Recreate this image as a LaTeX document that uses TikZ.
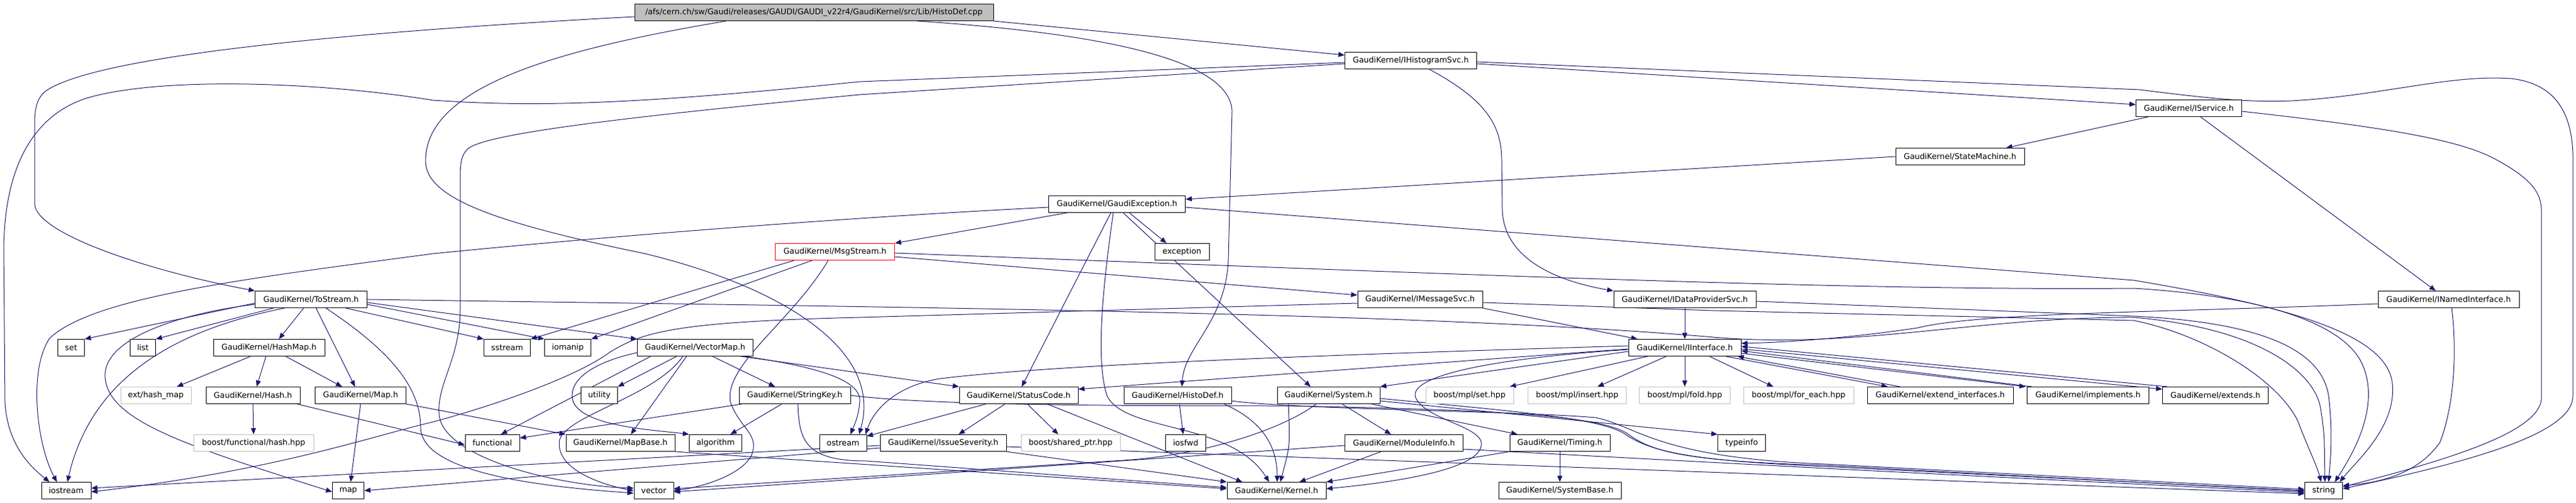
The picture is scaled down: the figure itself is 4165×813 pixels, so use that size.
\documentclass[tikz,border=0pt]{standalone}
\usepackage{fontspec}
\setmainfont{DejaVu Sans}
\usetikzlibrary{arrows.meta,backgrounds}
\definecolor{edgeblue}{RGB}{25,25,112}
\begin{document}
\begin{tikzpicture}[x=1pt,y=-1pt]
        \tikzstyle{file}=[rectangle,draw=black,fill=white,line width=1pt,minimum height=27pt,inner sep=1pt,font=\fontsize{12.8}{15}\selectfont]
        \tikzstyle{sysfile}=[file,draw=gray!50]
        \tikzstyle{mainfile}=[file,fill=gray!50]
        \tikzstyle{openfile}=[file,draw=red]
        \tikzstyle{incl}=[draw=edgeblue,line width=1pt,-{Triangle[length=10pt,width=8pt]}]
        \useasboundingbox (0,0) rectangle (4165,813);

        \node [mainfile,minimum width=580pt] (root) at (1316,20) {/afs/cern.ch/sw/Gaudi/releases/GAUDI/GAUDI\_v22r4/GaudiKernel/src/Lib/HistoDef.cpp};
        \node [file,minimum width=213pt] (histsvc) at (2281,98) {GaudiKernel/IHistogramSvc.h};
        \node [file,minimum width=171pt] (isvc) at (3539,175) {GaudiKernel/IService.h};
        \node [file,minimum width=208pt] (statem) at (3169,253) {GaudiKernel/StateMachine.h};
        \node [file,minimum width=221pt] (gexc) at (1806,330) {GaudiKernel/GaudiException.h};
        \node [openfile,minimum width=193pt] (msgs) at (1350,407) {GaudiKernel/MsgStream.h};
        \node [file,minimum width=88pt] (exc) at (1911,407) {exception};
        \node [file,minimum width=181pt] (tostr) at (503,484) {GaudiKernel/ToStream.h};
        \node [file,minimum width=202pt] (imsg) at (2296,484) {GaudiKernel/IMessageSvc.h};
        \node [file,minimum width=230pt] (idata) at (2724,484) {GaudiKernel/IDataProviderSvc.h};
        \node [file,minimum width=228pt] (inamed) at (3959,484) {GaudiKernel/INamedInterface.h};
        \node [file,minimum width=43pt] (set) at (115,562) {set};
        \node [file,minimum width=41pt] (list) at (231,562) {list};
        \node [file,minimum width=180pt] (hashmap) at (435,562) {GaudiKernel/HashMap.h};
        \node [file,minimum width=75pt] (sstr) at (820,562) {sstream};
        \node [file,minimum width=75pt] (ioman) at (918,562) {iomanip};
        \node [file,minimum width=187pt] (vmap) at (1124,562) {GaudiKernel/VectorMap.h};
        \node [file,minimum width=182pt] (iif) at (2724,562) {GaudiKernel/IInterface.h};
        \node [sysfile,minimum width=114pt] (exthm) at (252,639) {ext/hash\_map};
        \node [file,minimum width=152pt] (hash) at (409,639) {GaudiKernel/Hash.h};
        \node [file,minimum width=147pt] (maph) at (583,639) {GaudiKernel/Map.h};
        \node [file,minimum width=59pt] (util) at (969,639) {utility};
        \node [file,minimum width=180pt] (skey) at (1285,639) {GaudiKernel/StringKey.h};
        \node [file,minimum width=192pt] (scode) at (1647,639) {GaudiKernel/StatusCode.h};
        \node [file,minimum width=174pt] (hdef) at (1904,639) {GaudiKernel/HistoDef.h};
        \node [file,minimum width=166pt] (sys) at (2148,639) {GaudiKernel/System.h};
        \node [sysfile,minimum width=142pt] (mplset) at (2376,639) {boost/mpl/set.hpp};
        \node [sysfile,minimum width=159pt] (mplins) at (2550,639) {boost/mpl/insert.hpp};
        \node [sysfile,minimum width=147pt] (mplfold) at (2724,639) {boost/mpl/fold.hpp};
        \node [sysfile,minimum width=178pt] (mplfe) at (2908,639) {boost/mpl/for\_each.hpp};
        \node [file,minimum width=236pt] (extif) at (3137,639) {GaudiKernel/extend\_interfaces.h};
        \node [file,minimum width=197pt] (impl) at (3376,639) {GaudiKernel/implements.h};
        \node [file,minimum width=171pt] (extends) at (3582,639) {GaudiKernel/extends.h};
        \node [sysfile,minimum width=194pt] (bfhash) at (410,716) {boost/functional/hash.hpp};
        \node [file,minimum width=88pt] (func) at (796,716) {functional};
        \node [file,minimum width=176pt] (mapbase) at (1003,716) {GaudiKernel/MapBase.h};
        \node [file,minimum width=85pt] (algo) at (1157,716) {algorithm};
        \node [file,minimum width=76pt] (ostr) at (1363,716) {ostream};
        \node [file,minimum width=204pt] (issue) at (1525,716) {GaudiKernel/IssueSeverity.h};
        \node [sysfile,minimum width=160pt] (shptr) at (1731,716) {boost/shared\_ptr.hpp};
        \node [file,minimum width=65pt] (iosfwd) at (1917,716) {iosfwd};
        \node [file,minimum width=191pt] (modinfo) at (2270,716) {GaudiKernel/ModuleInfo.h};
        \node [file,minimum width=162pt] (timing) at (2522,716) {GaudiKernel/Timing.h};
        \node [file,minimum width=77pt] (typeinfo) at (2816,716) {typeinfo};
        \node [file,minimum width=80pt] (iostr) at (107,793) {iostream};
        \node [file,minimum width=51pt] (map) at (563,793) {map};
        \node [file,minimum width=64pt] (vector) at (1057,793) {vector};
        \node [file,minimum width=160pt] (kernel) at (2064,793) {GaudiKernel/Kernel.h};
        \node [file,minimum width=198pt] (sysbase) at (2522,793) {GaudiKernel/SystemBase.h};
        \node [file,minimum width=61pt] (string) at (3757,793) {string};

        \begin{pgfonlayer}{background}
        \fill[white] (0,0) rectangle (4165,813);
        % HistoDef.cpp
        \draw[incl] (root.south east) -- ([yshift=9pt]histsvc.west);
        \draw[incl] ([yshift=-7pt]root.west) .. controls (500,55) and (150,95) .. (74,147) .. controls (60,158) and (56,175) .. (56,200) -- (56,330) .. controls (60,380) and (250,440) .. (tostr.north west);
        \draw[incl] ([xshift=-142pt]root.south) .. controls (900,80) and (688,140) .. (688,260) .. controls (688,320) and (800,360) .. (1043,410) .. controls (1250,460) and (1430,560) .. ([xshift=26pt]ostr.north);
        \draw[incl] ([xshift=167pt]root.south) .. controls (1800,55) and (1990,100) .. (1992,180) -- (1986,420) .. controls (1982,520) and (1915,560) .. ([xshift=7pt]hdef.north);
        % IHistogramSvc.h
        \draw[incl] ([yshift=-5pt]histsvc.east) -- ([yshift=6pt]isvc.west);
        \draw[incl] ([yshift=-3pt]histsvc.west) -- (1390,132) .. controls (1000,172) and (850,172) .. (700,162) .. controls (500,130) and (250,125) .. (139,159) .. controls (60,185) and (8,260) .. (6,400) -- (8,650) .. controls (12,720) and (50,755) .. ([xshift=-27pt]iostr.north);
        \draw[incl] ([yshift=-5pt]histsvc.west) -- (1390,153) .. controls (1000,190) and (800,215) .. (760,238) .. controls (748,246) and (744,258) .. (744,285) -- (744,500) .. controls (744,580) and (706,620) .. (710,670) .. controls (716,740) and (900,785) .. ([yshift=4pt]vector.west);
        \draw[incl] ([yshift=-2pt]histsvc.east) -- (3460,145) .. controls (3600,163) and (3650,165) .. (3705,163) .. controls (3850,155) and (3960,120) .. (4060,127) .. controls (4130,135) and (4158,180) .. (4160,250) -- (4160,640) .. controls (4160,700) and (4000,745) .. ([yshift=3pt]string.east);
        \draw[incl] ([xshift=30pt]histsvc.south) .. controls (2400,160) and (2428,200) .. (2428,260) -- (2429,340) .. controls (2432,420) and (2520,455) .. (idata.north west);
        % IService.h
        \draw[incl] ([xshift=20pt]isvc.south west) -- ([xshift=-30pt]statem.north east);
        \draw[incl] ([xshift=19pt]isvc.south) -- ([xshift=-21pt]inamed.north);
        \draw[incl] ([yshift=-5pt]isvc.east) .. controls (3850,205) and (3975,225) .. (4034,257) .. controls (4090,287) and (4109,310) .. (4109,340) -- (4109,645) .. controls (4105,700) and (3950,745) .. ([yshift=6pt]string.east);
        \draw[incl] (statem.west) -- ([yshift=8pt]gexc.east);
        % GaudiException.h
        \draw[incl] ([xshift=-81pt]gexc.south) -- (msgs.north east);
        \draw[incl] ([xshift=20pt]gexc.south) -- ([xshift=-25pt]exc.north);
        \draw[incl] ([xshift=-10pt]gexc.south) -- ([xshift=5pt]scode.north);
        \draw[incl] ([xshift=10pt]gexc.south) -- ([xshift=-29pt]sys.north);
        \draw[incl] ([yshift=-5pt]gexc.west) .. controls (1300,355) and (900,390) .. (700,410) .. controls (400,450) and (150,480) .. (80,547) .. controls (45,600) and (60,720) .. ([xshift=-15pt]iostr.north);
        \draw[incl] ([xshift=-6pt]gexc.south) .. controls (1785,450) and (1770,580) .. (1790,640) .. controls (1820,700) and (1990,680) .. ([xshift=-12pt]kernel.north);
        \draw[incl] ([yshift=-5pt]gexc.east) -- (3450,453) .. controls (3700,495) and (3860,540) .. (3868,620) .. controls (3875,690) and (3810,745) .. ([xshift=26pt]string.north);
        % MsgStream.h
        \draw[incl] ([xshift=-66pt]msgs.south) -- (sstr.north east);
        \draw[incl] ([xshift=-37pt]msgs.south) -- (ioman.north east);
        \draw[incl] ([yshift=-8pt]msgs.east) -- ([yshift=7pt]imsg.west);
        \draw[incl] ([yshift=-2pt]msgs.east) .. controls (2400,445) and (3000,470) .. (3450,466) .. controls (3650,478) and (3790,520) .. (3820,590) .. controls (3850,660) and (3800,740) .. ([xshift=18pt]string.north);
        \draw[incl] ([xshift=-11pt]msgs.south) .. controls (1280,520) and (1170,590) .. (1181,650) .. controls (1195,690) and (1225,700) .. (1217,730) .. controls (1210,760) and (1150,785) .. (vector.east);
        % ToStream.h
        \draw[incl] ([yshift=-6pt]tostr.west) -- (set.north east);
        \draw[incl] ([xshift=30pt]tostr.south west) -- (list.north east);
        \draw[incl] ([xshift=-12pt]tostr.south) -- ([xshift=16pt]hashmap.north);
        \draw[incl] ([xshift=8pt]tostr.south) -- ([xshift=-9pt]maph.north);
        \draw[incl] ([xshift=-35pt]tostr.south east) -- (sstr.north west);
        \draw[incl] ([yshift=-8pt]tostr.east) -- (ioman.north west);
        \draw[incl] ([yshift=-5pt]tostr.east) -- (vmap.north west);
        \draw[incl] ([yshift=-8pt]tostr.west) .. controls (300,505) and (165,545) .. (170,610) .. controls (175,680) and (300,720) .. ([yshift=-2pt]map.west);
        \draw[incl] ([xshift=-43pt]tostr.south) .. controls (300,530) and (150,600) .. ([xshift=2pt]iostr.north);
        \draw[incl] ([xshift=24pt]tostr.south) .. controls (620,560) and (680,620) .. (680,690) .. controls (680,760) and (850,785) .. ([yshift=-4pt]vector.west);
        \draw[incl] (tostr.east) .. controls (1500,497) and (2300,505) .. (2770,545) .. controls (3000,565) and (3200,512) .. (3450,513) .. controls (3650,530) and (3742,600) .. (3752,660) .. controls (3758,700) .. ([xshift=2pt]string.north);
        % HashMap.h, Hash.h, Map.h
        \draw[incl] ([xshift=-30pt]hashmap.south) -- ([xshift=34pt]exthm.north);
        \draw[incl] ([xshift=-5pt]hashmap.south) -- ([xshift=6pt]hash.north);
        \draw[incl] ([xshift=27pt]hashmap.south) -- ([xshift=-30pt]maph.north);
        \draw[incl] (hash.south) -- (bfhash.north);
        \draw[incl] ([xshift=-5pt]hash.south east) -- ([yshift=-3pt]func.west);
        \draw[incl] (maph.south) -- ([xshift=4pt]map.north);
        \draw[incl] (maph.south east) -- (mapbase.north west);
        % VectorMap.h
        \draw[incl] ([xshift=-30pt]vmap.south) -- (util.north east);
        \draw[incl] ([xshift=-72pt]vmap.south) -- ([xshift=14pt]func.north);
        \draw[incl] ([xshift=-14pt]vmap.south) -- ([xshift=17pt]mapbase.north);
        \draw[incl] ([xshift=28pt]vmap.south) -- ([xshift=-32pt]skey.north);
        \draw[incl] ([xshift=-20pt]vmap.south east) -- (scode.north west);
        \draw[incl] ([yshift=-8pt]vmap.west) .. controls (960,585) and (915,615) .. (927,650) .. controls (945,690) and (1060,695) .. (algo.north west);
        \draw[incl] ([xshift=-20pt]vmap.south) .. controls (1060,640) and (920,670) .. (905,710) .. controls (895,760) and (980,785) .. (vector.west);
        \draw[incl] ([xshift=-14pt]vmap.south east) .. controls (1300,590) and (1395,610) .. (1390,650) .. controls (1388,675) and (1380,690) .. ([xshift=12pt]ostr.north);
        % StringKey.h
        \draw[incl] ([xshift=5pt]skey.south west) -- ([yshift=8pt]func.east);
        \draw[incl] ([xshift=-21pt]skey.south) -- ([xshift=24pt]algo.north);
        \draw[incl] ([xshift=5pt]skey.south) .. controls (1292,710) and (1300,745) .. (1400,745) -- ([yshift=5pt]kernel.west);
        \draw[incl] (skey.east) .. controls (1500,655) and (1800,656) .. (2080,656) .. controls (2400,662) and (2580,670) .. (2630,700) .. controls (2670,730) and (2720,745) .. (2950,752) -- ([yshift=-1pt]string.west);
        % StatusCode.h, IssueSeverity.h, MapBase.h, HistoDef.h
        \draw[incl] ([xshift=-53pt]scode.south) -- ([yshift=-3pt]ostr.north east);
        \draw[incl] ([xshift=-22pt]scode.south) -- ([xshift=25pt]issue.north);
        \draw[incl] ([xshift=14pt]scode.south) -- ([xshift=-20pt]shptr.north);
        \draw[incl] ([xshift=46pt]scode.south) -- ([xshift=25pt]kernel.north west);
        \draw[incl] (issue.south east) -- (kernel.north west);
        \draw[incl] ([yshift=-6pt]issue.east) -- ([yshift=-5pt]string.west);
        \draw[incl] ([yshift=-4pt]issue.west) -- ([yshift=4pt]iostr.east);
        \draw[incl] ([yshift=-8pt]issue.west) -- (map.east);
        \draw[incl] (mapbase.south east) -- ([yshift=3pt]kernel.west);
        \draw[incl] ([xshift=3pt]hdef.south) -- ([xshift=-4pt]iosfwd.north);
        \draw[incl] ([xshift=75pt]hdef.south) .. controls (2040,680) and (2065,720) .. ([xshift=1pt]kernel.north);
        \draw[incl] ([yshift=-9pt]hdef.east) .. controls (2100,662) and (2450,664) .. (2580,675) .. controls (2650,690) and (2680,740) .. (2950,750) -- ([yshift=2pt]string.west);
        % IMessageSvc.h, IDataProviderSvc.h, INamedInterface.h
        \draw[incl] (imsg.south east) -- ([xshift=15pt]iif.north west);
        \draw[incl] ([yshift=-6pt]imsg.west) -- (1390,513) .. controls (1100,520) and (1040,535) .. (985,570) .. controls (930,610) and (800,655) .. (700,682) .. controls (600,705) and (450,760) .. ([yshift=-2pt]iostr.east);
        \draw[incl] ([yshift=-5pt]imsg.east) -- (2770,502) -- (3450,518) .. controls (3560,540) and (3680,610) .. (3715,680) .. controls (3730,720) and (3745,750) .. ([xshift=-4pt]string.north);
        \draw[incl] (idata.south) -- (iif.north);
        \draw[incl] ([yshift=-3pt]idata.east) -- (3450,511) .. controls (3680,522) and (3755,575) .. (3765,640) .. controls (3772,700) and (3768,740) .. ([xshift=8pt]string.north);
        \draw[incl] ([yshift=-7pt]inamed.west) .. controls (3500,505) and (3200,505) .. (3100,530) .. controls (3000,545) and (2900,553) .. ([yshift=7pt]iif.east);
        \draw[incl] ([xshift=5pt]inamed.south) .. controls (3972,560) and (3970,650) .. (3945,715) .. controls (3910,765) and (3850,780) .. ([yshift=8pt]string.east);
        % IInterface.h
        \draw[incl] ([xshift=-60pt]iif.south) -- ([xshift=65pt]mplset.north);
        \draw[incl] ([xshift=-30pt]iif.south) -- ([xshift=33pt]mplins.north);
        \draw[incl] (iif.south) -- (mplfold.north);
        \draw[incl] ([xshift=40pt]iif.south) -- ([xshift=-41pt]mplfe.north);
        \draw[incl] ([yshift=-6pt]iif.west) -- (sys.north east);
        \draw[incl] ([yshift=-2pt]iif.west) -- ([yshift=10pt]scode.east);
        \draw[incl] ([xshift=-25pt]iif.south east) -- ([xshift=-85pt]extif.north);
        \draw[incl] ([xshift=-65pt]extif.north) -- ([xshift=-6pt]iif.south east);
        \draw[incl] ([yshift=5pt]iif.south east) -- ([xshift=-2pt]impl.north west);
        \draw[incl] ([xshift=8pt]impl.north west) -- ([yshift=9pt]iif.south east);
        \draw[incl] ([yshift=12pt]iif.south east) -- ([yshift=-4pt]extends.north west);
        \draw[incl] ([xshift=8pt]extends.north west) -- ([yshift=16pt]iif.south east);
        \draw[incl] ([yshift=3pt]iif.west) .. controls (2100,575) and (1700,590) .. (1520,612) .. controls (1440,625) and (1410,670) .. ([xshift=-2pt]ostr.north east);
        \draw[incl] ([yshift=-3pt]iif.west) .. controls (2400,580) and (2270,610) .. (2290,645) .. controls (2310,680) and (2400,690) .. (2395,720) .. controls (2390,760) and (2250,780) .. ([yshift=3pt]kernel.east);
        % System.h, ModuleInfo.h, Timing.h
        \draw[incl] ([xshift=22pt]sys.south) -- ([xshift=-21pt]modinfo.north);
        \draw[incl] ([xshift=-14pt]sys.south east) -- ([xshift=13pt]timing.north west);
        \draw[incl] ([yshift=-9pt]sys.east) -- (typeinfo.north west);
        \draw[incl] ([xshift=-65pt]sys.south) .. controls (2086,720) .. ([xshift=6pt]kernel.north);
        \draw[incl] ([xshift=-20pt]sys.south) .. controls (2080,690) and (1950,738) .. (1800,745) -- ([yshift=3pt]vector.east);
        \draw[incl] ([yshift=-5pt]sys.east) .. controls (2450,665) and (2580,675) .. (2625,700) .. controls (2665,728) and (2720,744) .. (2950,754) -- (string.west);
        \draw[incl] ([xshift=-37pt]modinfo.south) -- ([xshift=37pt]kernel.north);
        \draw[incl] ([yshift=-4pt]modinfo.west) -- ([yshift=-2pt]vector.east);
        \draw[incl] ([yshift=-10pt]modinfo.east) -- (2950,757) -- ([yshift=-3pt]string.west);
        \draw[incl] (timing) -- (sysbase);
        \draw[incl] (timing.south west) -- (kernel.north east);
        \end{pgfonlayer}
\end{tikzpicture}
\end{document}
